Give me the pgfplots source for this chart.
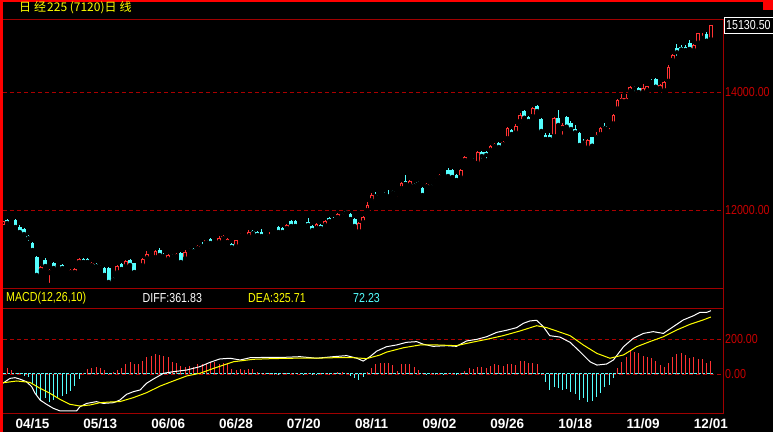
\documentclass[border=0pt]{standalone}
\usepackage{pgfplots}
\pgfplotsset{compat=1.18}
\usepackage{pgfplotstable}
\usepackage{fontspec}
\setmainfont{Liberation Sans}
\newfontfamily\cjk{Noto Sans CJK SC}
\newfontfamily\nf[FakeStretch=0.82]{Liberation Sans}
\definecolor{upred}{RGB}{255,50,50}
\definecolor{dncyan}{RGB}{84,255,255}
\definecolor{gridred}{RGB}{170,0,0}
\definecolor{lblred}{RGB}{200,0,0}
\definecolor{framered}{RGB}{160,0,0}
\definecolor{ylw}{RGB}{255,255,0}

% up candles: i open high low close
\pgfplotstableread{
i o h l c
0 11746 11840 11720 11814
2 11850 11898 11797 11870
9 10966 11051 10932 11034
11 10932 11000 10729 10983
13 11040 11085 10983 11055
15 10949 10995 10935 10983
16 10932 11000 10865 10983
17 10932 11020 10880 11000
18 11102 11185 11090 11170
21 11051 11120 11017 11102
23 11010 11070 10960 11025
27 10932 11060 10920 11051
29 11034 11150 11020 11136
32 10983 11030 10960 11000
33 11051 11180 11040 11170
34 11170 11300 11160 11254
35 11220 11270 11200 11237
36 11186 11315 11175 11305
39 11153 11250 11140 11237
41 11203 11265 11190 11254
43 11165 11330 11140 11288
44 11300 11350 11270 11315
46 11340 11400 11330 11390
48 11441 11500 11430 11492
50 11460 11500 11440 11475
51 11441 11560 11410 11526
52 11508 11570 11500 11559
53 11441 11520 11430 11508
55 11373 11500 11360 11492
56 11555 11610 11520 11570
57 11550 11600 11530 11560
58 11543 11660 11510 11627
62 11542 11585 11530 11576
63 11540 11627 11535 11548
67 11678 11760 11665 11746
70 11740 11760 11710 11750
71 11775 11810 11745 11790
74 11678 11775 11665 11763
76 11729 11825 11715 11814
79 11864 11945 11850 11932
84 11627 11790 11593 11780
85 11780 11895 11765 11881
86 11983 12140 11940 12085
87 12153 12290 12120 12254
89 12245 12290 12220 12260
93 12270 12300 12200 12290
94 12356 12470 12345 12458
96 12407 12505 12395 12492
100 12390 12455 12380 12441
102 12490 12542 12485 12500
103 12542 12605 12510 12593
104 12610 12660 12580 12625
108 12542 12690 12530 12678
109 12830 12910 12815 12898
110 12880 12920 12830 12900
112 12785 13000 12770 12990
115 13000 13100 12990 13085
116 13068 13135 13050 13119
118 13102 13165 13090 13153
119 13203 13400 13190 13390
121 13300 13460 13290 13424
122 13496 13640 13430 13610
125 13580 13740 13570 13729
130 13241 13570 13230 13559
132 13373 13480 13240 13441
138 13046 13200 12983 13186
140 13220 13330 13205 13271
141 13271 13410 13260 13395
143 13320 13390 13290 13340
144 13452 13620 13440 13610
145 13706 13880 13695 13864
146 13836 13960 13790 13903
147 13836 13960 13800 13903
148 14005 14110 13970 14090
151 13983 14130 13960 14073
152 14017 14110 14000 14102
155 14051 14135 14040 14124
156 14017 14185 14005 14175
157 14175 14460 14160 14430
158 14530 14640 14520 14627
163 14695 14810 14630 14797
164 14826 15005 14815 14995
165 14900 14995 14865 14930
167 14881 15140 14870 15130.5
}\up

% down candles: i open high low close
\pgfplotstableread{
i o h l c
1 11831 11850 11720 11780
3 11831 11845 11700 11712
4 11712 11740 11600 11627
5 11678 11700 11560 11593
6 11559 11575 11441 11525
7 11441 11455 11310 11322
8 11203 11215 10882 10899
10 11153 11180 11017 11051
12 11102 11120 11000 11017
14 11068 11080 11000 11017
19 11170 11190 11080 11119
20 11170 11180 11100 11119
22 11085 11095 11040 11051
24 11017 11030 10890 10899
25 11017 11030 10746 10780
26 10845 10865 10780 10825
28 11085 11100 10990 11000
30 11153 11170 11050 11068
31 11102 11110 10940 10949
37 11322 11360 11220 11237
38 11237 11270 11195 11220
40 11230 11260 11180 11215
42 11271 11285 11100 11119
45 11339 11350 11290 11305
47 11407 11450 11360 11390
49 11509 11520 11400 11441
54 11424 11435 11330 11373
59 11644 11655 11600 11610
60 11627 11640 11565 11576
61 11627 11680 11545 11559
64 11680 11690 11655 11665
65 11712 11725 11610 11627
66 11695 11705 11615 11627
68 11814 11825 11720 11729
69 11814 11825 11720 11729
72 11797 11860 11735 11746
73 11729 11740 11610 11661
75 11746 11760 11680 11695
77 11864 11875 11800 11814
78 11847 11880 11800 11831
80 11932 11950 11880 11915
81 11975 12000 11930 11958
82 11932 11945 11780 11847
83 11847 11860 11715 11729
88 12254 12305 12210 12237
90 12280 12305 12240 12260
91 12260 12339 12220 12230
92 12320 12339 12270 12300
95 12492 12593 12430 12441
97 12435 12465 12385 12415
98 12475 12490 12410 12450
99 12373 12385 12240 12254
101 12420 12440 12380 12405
105 12678 12720 12560 12576
106 12678 12690 12545 12559
107 12593 12605 12480 12508
111 12860 12880 12815 12840
113 12990 13000 12840 12915
114 12990 13000 12840 12932
117 13136 13150 13055 13068
120 13356 13370 13275 13288
123 13678 13690 13550 13564
124 13576 13600 13450 13508
126 13763 13780 13650 13678
127 13542 13555 13271 13339
128 13271 13300 13190 13203
129 13271 13300 13190 13203
131 13559 13695 13430 13441
133 13576 13590 13350 13412
134 13480 13510 13320 13373
135 13378 13440 13300 13317
136 13300 13315 13056 13102
137 13160 13200 13100 13140
139 13232 13245 13080 13090
142 13420 13480 13380 13390
149 14080 14100 13980 14060
150 14060 14080 13950 14000
153 14190 14220 14120 14170
154 14220 14235 14080 14090
159 14740 14814 14580 14674
160 14760 14800 14680 14720
161 14760 14800 14660 14710
162 14830 14880 14720 14729
166 14983 15010 14860 14870
}\down

% MACD histogram
\pgfplotstableread{
i m
0 19
1 36
2 23
3 4
4 5
5 -10
6 -20
7 -60
8 -120
9 -155
10 -140
11 -160
12 -150
13 -140
14 -125
15 -115
16 -95
17 -70
18 -30
19 5
20 29
21 32
22 40
23 32
24 23
25 2
26 10
27 23
28 32
29 57
30 67
31 55
32 57
33 74
34 95
35 103
36 114
37 109
38 105
39 95
40 70
41 61
42 46
43 42
44 46
45 42
46 55
47 57
48 57
49 67
50 67
51 57
52 65
53 61
54 27
55 23
56 27
57 23
58 27
59 29
60 13
61 8
62 4
63 6
64 2
65 -3
66 3
67 5
68 6
69 3
70 2
71 -4
72 4
73 -6
74 -8
75 3
76 5
77 2
78 8
79 10
80 12
81 4
82 -10
83 -25
84 -35
85 -15
86 12
87 32
88 55
89 65
90 65
91 61
92 51
93 15
94 55
95 57
96 55
97 40
98 23
99 5
100 -6
101 3
102 2
103 4
104 -3
105 5
106 3
107 -6
108 4
109 19
110 32
111 29
112 42
113 38
114 32
115 48
116 57
117 51
118 48
119 55
120 55
121 51
122 76
123 76
124 61
125 65
126 57
127 2
128 -48
129 -91
130 -76
131 -82
132 -91
133 -86
134 -105
135 -114
136 -149
137 -139
138 -158
139 -152
140 -130
141 -110
142 -75
143 -63
144 -22
145 33
146 67
147 96
148 129
149 123
150 119
151 100
152 96
153 94
154 75
155 52
156 42
157 62
158 96
159 115
160 119
161 110
162 90
163 96
164 85
165 85
166 62
167 72.23
}\macd

\begin{document}
\begin{tikzpicture}
\fill[black] (0pt,0pt) rectangle (773pt,-432pt);
\useasboundingbox (0pt,0pt) rectangle (773pt,-432pt);

% ---------- main candlestick panel ----------
\begin{axis}[
  at={(3pt,-19pt)}, anchor=north west, scale only axis,
  width=720pt, height=269pt,
  xmin=0.047, xmax=169.86, ymin=10677.9, ymax=15237.4,
  axis line style={draw=none}, xtick=\empty,
  scaled y ticks=false,
  ytick={12000,14000}, yticklabels={12000.00,14000.00},
  yticklabel pos=right, major tick length=0pt,
  yticklabel style={font=\nf\fontsize{13}{13}\selectfont, text=lblred, inner sep=0pt, xshift=2pt},
  ymajorgrids, grid style={gridred, dash pattern=on 4pt off 3pt, line width=0.8pt},
]
% wicks
\addplot[only marks, mark=none, error bars/.cd, y dir=plus, y explicit, error mark=none,
  error bar style={upred, line width=1pt}]
  table[x=i, y=l, y error expr=\thisrow{h}-\thisrow{l}] {\up};
\addplot[only marks, mark=none, error bars/.cd, y dir=plus, y explicit, error mark=none,
  error bar style={dncyan, line width=1pt}]
  table[x=i, y=l, y error expr=\thisrow{h}-\thisrow{l}] {\down};
% bodies
\addplot[only marks, mark=none, error bars/.cd, y dir=plus, y explicit, error mark=none,
  error bar style={upred, line width=3.7pt}]
  table[x=i, y=o, y error expr={max(\thisrow{c}-\thisrow{o},14)}] {\up};
\addplot[only marks, mark=none, error bars/.cd, y dir=plus, y explicit, error mark=none,
  error bar style={black, line width=1.7pt}]
  table[x=i, y expr=\thisrow{o}+17, y error expr={max(\thisrow{c}-\thisrow{o}-34,0)}] {\up};
\addplot[only marks, mark=none, error bars/.cd, y dir=plus, y explicit, error mark=none,
  error bar style={dncyan, line width=3.7pt}]
  table[x=i, y=c, y error expr={max(\thisrow{o}-\thisrow{c},14)}] {\down};
\end{axis}

% ---------- MACD panel ----------
\begin{axis}[
  at={(3pt,-308pt)}, anchor=north west, scale only axis,
  width=720pt, height=105pt,
  xmin=0.047, xmax=169.86, ymin=-222.9, ymax=377.1,
  axis line style={draw=none},
  scaled y ticks=false,
  xtick={7,23,39,55,71,87,103,119,135,151,167},
  xticklabels={04/15,05/13,06/06,06/28,07/20,08/11,09/02,09/26,10/18,11/09,12/01},
  xticklabel style={font=\bfseries\fontsize{13.5}{13.5}\selectfont, text=white, inner sep=1pt, yshift=-5pt},
  ytick={0,200}, yticklabels={0.00,200.00},
  yticklabel pos=right, major tick length=0pt,
  yticklabel style={font=\nf\fontsize{13}{13}\selectfont, text=lblred, inner sep=0pt, xshift=2pt},
  ymajorgrids, grid style={gridred, dash pattern=on 4pt off 3pt, line width=0.8pt},
]
\addplot[dncyan, line width=1pt, dash pattern=on 3pt off 1.24pt] coordinates {(0,0) (167.4,0)};
\addplot[ycomb, upred, line width=1pt, restrict y to domain=0:1000] table[x=i, y=m] {\macd};
\addplot[ycomb, dncyan, line width=1pt, restrict y to domain=-1000:0] table[x=i, y=m] {\macd};
% DIFF
\addplot[white, line width=1pt] coordinates {
(0,-53) (1.7,-25) (2.9,-21) (4,-29) (5.6,-44) (6.8,-72) (7.6,-110) (8.8,-149) (10.3,-173)
(11.9,-196) (13.5,-211) (15.1,-211) (17.4,-211) (18.2,-187) (19.8,-168) (22.1,-158)
(23.7,-168) (26.1,-164) (27.6,-149) (29.2,-116) (30.8,-101) (32.4,-91) (33.9,-53)
(35.5,-29) (37.9,4) (40.2,13) (43.4,23) (46.5,42) (48.9,67) (51.2,86) (53.6,90) (56,80)
(58.3,93) (62.2,95) (66.2,95) (70.1,99) (74,90) (78,99) (81.1,105) (83.5,90) (85,74)
(86.6,99) (88.2,131) (90.5,156) (92.9,166) (95.2,181) (97.6,185) (99.2,170) (101.5,158)
(104.7,162) (107,158) (109.4,189) (111.8,198) (114.1,213) (116.5,238) (118.8,250)
(121.2,265) (122.8,290) (124.3,303) (125.9,307) (127.5,270) (129,219) (131.4,211)
(133.8,181) (136.1,128) (138.5,70) (140.1,51) (142.4,57) (144,80) (146.4,156)
(148.7,204) (151.1,232) (153.4,242) (155.8,232) (158.1,270) (160.5,309) (162.9,333)
(164.4,352) (166,352) (167,361.83)};
% DEA
\addplot[ylw, line width=1pt] coordinates {
(0.1,-50) (3.3,-40) (6.4,-48) (8.8,-82) (11.1,-110) (13.5,-145) (15.8,-173) (18.2,-183)
(20.6,-177) (22.9,-164) (25.3,-160) (27.6,-158) (30.8,-135) (33.9,-107) (37.1,-69)
(40.2,-40) (43.4,-11) (46.5,4) (49.7,32) (54.4,70) (59.1,84) (63.8,88) (68.5,90)
(73.2,90) (78,93) (82.7,93) (85.8,88) (88.9,108) (90.5,125) (94.5,150) (98.4,166)
(102.3,166) (107,162) (110.2,179) (114.1,198) (118,219) (122,246) (125.9,276)
(128.3,265) (130.6,246) (133.8,219) (136.9,166) (140.1,118) (143.2,90) (146.4,109)
(149.5,156) (152.6,185) (155.8,213) (158.9,251) (162.1,284) (165.2,309) (166.8,324)
(167,325.71)};
\end{axis}

% ---------- frame ----------
\fill[red] (0pt,0pt) rectangle (3.3pt,-432pt);
\fill[red] (0pt,0pt) rectangle (773pt,-1.7pt);
\fill[red] (763pt,0pt) rectangle (773pt,-10pt);
\draw[framered, line width=1pt] (3pt,-19.5pt) -- (723.5pt,-19.5pt) -- (723.5pt,-413.5pt) -- (3pt,-413.5pt);
\draw[framered, line width=1pt] (3pt,-288.5pt) -- (723.5pt,-288.5pt);
\draw[framered, line width=1pt] (3pt,-308.5pt) -- (723.5pt,-308.5pt);
\draw[white, line width=1pt] (724pt,-17pt) rectangle (774pt,-33.5pt);

% ---------- texts ----------
\node[anchor=west, text=ylw, inner sep=0pt, font=\cjk\fontsize{12}{12}\selectfont] at (19pt,-8pt)
  {日\hspace{3pt}经\hspace{1pt}225 (7120)日\hspace{3pt}线};
\node[anchor=west, text=white, inner sep=0pt, font=\nf\fontsize{13}{13}\selectfont] at (726pt,-25.3pt) {15130.50};
\node[anchor=west, text=ylw, inner sep=0pt, font=\nf\fontsize{13}{13}\selectfont] at (6pt,-298pt) {MACD(12,26,10)};
\node[anchor=west, text=white, inner sep=0pt, font=\nf\fontsize{13}{13}\selectfont] at (142.5pt,-298pt) {DIFF:361.83};
\node[anchor=west, text=ylw, inner sep=0pt, font=\nf\fontsize{13}{13}\selectfont] at (248pt,-298pt) {DEA:325.71};
\node[anchor=west, text=dncyan, inner sep=0pt, font=\nf\fontsize{13}{13}\selectfont] at (353pt,-298pt) {72.23};
\end{tikzpicture}
\end{document}
